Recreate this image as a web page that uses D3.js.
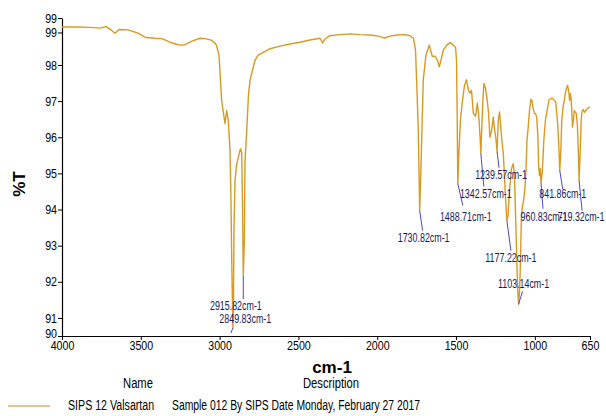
<!DOCTYPE html>
<html><head><meta charset="utf-8">
<script src="https://cdn.jsdelivr.net/npm/d3@7"></script>
<style>
body{margin:0;background:#fff;}
svg{display:block;font-family:"Liberation Sans",Arial,sans-serif;}
</style></head><body>
<svg id="c" width="606" height="416"></svg>
<script>
const wavenumber = [4000,3917,3822,3759,3721,3689,3664,3638,3581,3518,3467,3410,3366,3315,3264,3226,3175,3124,3093,3048,3020,3004,2987,2966,2955,2945,2934,2928,2923,2915.82,2912,2909,2902,2893,2881,2868,2860,2855,2849.83,2843,2839,2828,2817,2807,2791,2775,2756,2731,2680,2617,2553,2490,2427,2363,2346,2331,2300,2236,2173,2109,2046,1982,1957,1919,1875,1824,1792,1770,1757,1748,1739,1735,1730.82,1725,1718,1708,1691,1670,1651,1633,1618,1606,1592,1581,1559,1538,1517,1503,1497,1493,1488.71,1481,1472,1459,1446,1434,1421,1411,1402,1390,1376,1365,1356,1348,1342.57,1337,1330,1323,1313,1302,1294,1285,1274,1264,1256,1248,1239.57,1232,1224,1217,1209,1200,1193,1185,1177.22,1170,1161,1148,1137,1129,1123,1116,1110,1103.14,1097,1091,1085,1078,1072,1064,1056,1050,1042,1034,1025,1018,1011,1002,996,988,981,976,971,965,960.83,953,949,943,933,922,911,902,889,876,867,855,848,841.86,835,829,821,813,807,797,792,786,779,774,769,761,754,750,743,737,730,724,719.32,712,706,701,693,685,675,667,661,653,650];
const transmittance = [99.05,99.05,99.04,99.02,99.06,98.97,98.88,98.98,98.97,98.88,98.76,98.74,98.73,98.63,98.56,98.55,98.66,98.74,98.73,98.68,98.55,98.27,97.02,96.38,96.74,96.47,95.63,94.24,92.58,90.72,91.47,93.41,94.80,95.22,95.45,95.68,95.58,94.24,92.16,93.13,95.27,96.19,97.16,97.58,97.86,98.13,98.27,98.33,98.45,98.52,98.58,98.63,98.69,98.74,98.61,98.72,98.81,98.84,98.86,98.84,98.83,98.79,98.74,98.80,98.83,98.84,98.81,98.74,98.41,97.30,96.19,95.08,93.97,94.80,95.91,97.58,98.27,98.55,98.24,98.24,98.13,97.95,98.19,98.41,98.55,98.62,98.55,98.49,98.13,96.74,94.72,95.63,96.47,97.02,97.44,97.59,97.30,97.22,97.30,96.66,96.58,96.94,96.61,96.05,95.55,96.19,97.02,97.49,97.36,97.02,96.69,96.00,96.19,96.56,96.24,96.00,95.60,96.47,96.70,96.33,95.91,95.55,94.94,94.24,93.69,93.83,94.52,95.13,95.27,94.94,93.97,92.86,91.88,91.38,91.74,92.58,93.83,94.11,94.24,94.52,95.08,95.91,96.28,96.74,97.05,97.02,96.80,96.66,96.66,96.55,96.05,95.22,94.94,95.13,94.74,95.02,95.36,95.91,96.47,96.74,97.02,97.07,97.08,97.02,96.97,96.38,95.77,95.08,95.63,96.47,96.84,97.02,97.21,97.38,97.44,97.30,97.02,97.21,97.02,96.28,96.52,96.74,96.69,96.66,96.33,95.63,94.80,95.63,96.47,96.70,96.77,96.69,96.74,96.80,96.81,96.83,96.84];

const xTicks = [4000,3500,3000,2500,2000,1500,1000,650];
const yTickValues = [90.5,91,92,93,94,95,96,97,98,98.9,99.3];
const yTickLabels = ["90","91","92","93","94","95","96","97","98","99","99"];

const peakWn = [2915.82,2849.83,1730.82,1488.71,1342.57,1239.57,1177.22,1103.14,960.83,841.86,719.32];
const peakT  = [90.72,92.16,93.97,94.72,95.55,95.60,93.69,91.38,94.74,95.08,94.80];
const peakText = peakWn.map(d => d.toFixed(2) + "cm-1");
// layout offsets (px) for connector end and label centre
const peakLineOff = [[-2,5],[0,23],[3,20],[5,22],[3,33],[2,16],[4,30],[4,-13],[2,26],[3,19],[3,30]];
const peakLabelOff = [[3,-22],[2,43],[4,27],[8,33],[5,40],[4,23],[4,37],[5,-20],[3,34],[3,24],[2,36]];

const legendName = "SIPS 12 Valsartan";
const legendDesc = "Sample 012 By SIPS Date Monday, February 27 2017";

function condense(sel, f){
  sel.each(function(){
    const L = this.getComputedTextLength();
    d3.select(this).attr("textLength", L*f).attr("lengthAdjust","spacingAndGlyphs");
  });
  return sel;
}

const svg = d3.select("#c");
const x = d3.scaleLinear().domain([4000,650]).range([62,590]);
const y = d3.scaleLinear().domain([90.5,99.3]).range([336,18]);

const xAxis = d3.axisBottom(x).tickValues(xTicks).tickFormat(d3.format("d")).tickSize(4).tickSizeOuter(0);
const gx = svg.append("g").attr("transform","translate(0,336)").call(xAxis);
gx.selectAll("text").attr("font-size",13).attr("font-family","Liberation Sans, Arial, sans-serif").attr("fill","#000").attr("dy","0.55em");
condense(gx.selectAll("text"),0.82);
gx.select(".domain").attr("stroke","#000").attr("stroke-width",1.2);
gx.selectAll(".tick line").attr("stroke","#000");

const yAxis = d3.axisLeft(y).tickValues(yTickValues).tickFormat((d,i)=>yTickLabels[i]).tickSize(4).tickSizeOuter(0);
const gy = svg.append("g").attr("transform","translate(62,0)").call(yAxis);
gy.selectAll("text").attr("font-size",13).attr("font-family","Liberation Sans, Arial, sans-serif").attr("fill","#000").attr("x",-5);
gy.selectAll("text").filter(d=>d===90.5).attr("dy","0.1em");
condense(gy.selectAll("text"),0.82);
gy.select(".domain").attr("stroke","#000").attr("stroke-width",1.2);
gy.selectAll(".tick line").attr("stroke","#000");

const data = wavenumber.map((w,i)=>[w,transmittance[i]]);
svg.append("path").datum(data)
  .attr("fill","none").attr("stroke","#D99A24").attr("stroke-width",1.4).attr("stroke-linejoin","round")
  .attr("d", d3.line().x(d=>x(d[0])).y(d=>y(d[1])));

const ann = svg.append("g");
peakWn.forEach((w,i)=>{
  const px = x(w), py = y(peakT[i]);
  ann.append("line").attr("x1",px).attr("y1",py)
    .attr("x2",px+peakLineOff[i][0]).attr("y2",py+peakLineOff[i][1])
    .attr("stroke","#4a4ac8").attr("stroke-width",1);
  const t = ann.append("text").attr("x",px+peakLabelOff[i][0]).attr("y",py+peakLabelOff[i][1])
    .attr("text-anchor","middle").attr("dominant-baseline","central")
    .attr("font-size",12).attr("fill","#18185e").text(peakText[i]);
  condense(t,0.74);
});

svg.append("text").attr("transform","translate(19,184) rotate(-90)")
  .attr("text-anchor","middle").attr("dominant-baseline","central")
  .attr("font-size",17).attr("font-weight","bold").text("%T");
svg.append("text").attr("x",332).attr("y",367).attr("text-anchor","middle").attr("dominant-baseline","central")
  .attr("font-size",17).attr("font-weight","bold").text("cm-1");

condense(svg.append("text").attr("x",138).attr("y",383).attr("text-anchor","middle").attr("dominant-baseline","central")
  .attr("font-size",14).text("Name"),0.8);
condense(svg.append("text").attr("x",331).attr("y",383).attr("text-anchor","middle").attr("dominant-baseline","central")
  .attr("font-size",14).text("Description"),0.8);
svg.append("line").attr("x1",8).attr("x2",50).attr("y1",406).attr("y2",406).attr("stroke","#E4B055").attr("stroke-width",1.5);
condense(svg.append("text").attr("x",68).attr("y",405).attr("dominant-baseline","central").attr("font-size",14).text(legendName),0.76);
condense(svg.append("text").attr("x",172).attr("y",405).attr("dominant-baseline","central").attr("font-size",14).text(legendDesc),0.74);
</script></body></html>
